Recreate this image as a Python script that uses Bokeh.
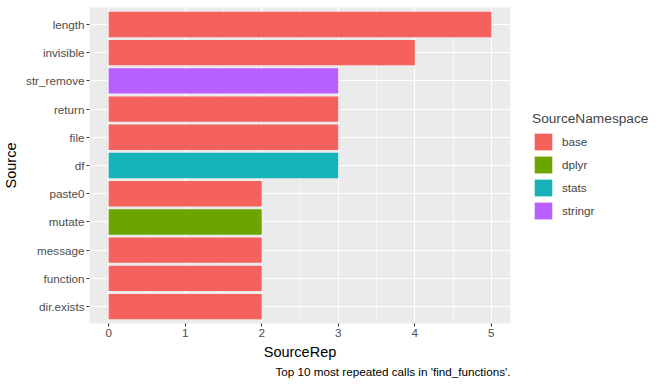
from bokeh.plotting import figure
from bokeh.models import Range1d, FixedTicker, Legend, LegendItem, ColumnDataSource, Title
from bokeh.embed import file_html
from bokeh.resources import INLINE

# Data (bottom to top)
sources = ["dir.exists", "function", "message", "mutate", "paste0",
           "df", "file", "return", "str_remove", "invisible", "length"]
reps = [2, 2, 2, 2, 2, 3, 3, 3, 3, 4, 5]
namespaces = ["base", "base", "base", "dplyr", "base",
              "stats", "base", "base", "stringr", "base", "base"]
ns_levels = ["base", "dplyr", "stats", "stringr"]
ns_colors = ["#F5625D", "#6CA500", "#16B4B8", "#B85FFF"]
x_ticks = [0, 1, 2, 3, 4, 5]
x_minor = [0.5, 1.5, 2.5, 3.5, 4.5]
caption = "Top 10 most repeated calls in 'find_functions'."

FONT = "Liberation Sans"

p = figure(frame_width=421, frame_height=316,
           x_range=Range1d(-0.25, 5.25), y_range=Range1d(0.4, 11.6),
           output_backend="svg", toolbar_location=None,
           min_border_left=82, min_border_right=153,
           min_border_top=7, min_border_bottom=58)

p.background_fill_color = "#EBEBEB"
p.border_fill_color = "white"
p.outline_line_color = None

ypos = list(range(1, len(sources) + 1))
items = []
for ns, col in zip(ns_levels, ns_colors):
    idx = [i for i, n in enumerate(namespaces) if n == ns]
    src = ColumnDataSource(dict(y=[ypos[i] for i in idx],
                                right=[reps[i] for i in idx]))
    r = p.hbar(y="y", left=0, right="right", height=0.9, source=src,
               fill_color=col, line_color=None)
    items.append(LegendItem(label=ns, renderers=[r]))

# grids
p.xgrid.ticker = FixedTicker(ticks=x_ticks, minor_ticks=x_minor)
p.xgrid.grid_line_color = "white"
p.xgrid.grid_line_width = 1.1
p.xgrid.minor_grid_line_color = "white"
p.xgrid.minor_grid_line_width = 0.55
p.ygrid.ticker = FixedTicker(ticks=ypos)
p.ygrid.grid_line_color = "white"
p.ygrid.grid_line_width = 1.1

# axes
p.xaxis.ticker = FixedTicker(ticks=x_ticks)
p.yaxis.ticker = FixedTicker(ticks=ypos)
p.yaxis.major_label_overrides = {y: s for y, s in zip(ypos, sources)}
for ax in (p.xaxis[0], p.yaxis[0]):
    ax.axis_line_color = None
    ax.major_tick_line_color = "#333333"
    ax.major_tick_line_width = 1.1
    ax.major_tick_out = 3
    ax.major_tick_in = 0
    ax.minor_tick_line_color = None
    ax.major_label_text_font = FONT
    ax.major_label_text_font_size = "11.7px"
    ax.major_label_text_color = "#4D4D4D"
    ax.major_label_standoff = 2
    ax.axis_label_text_font = FONT
    ax.axis_label_text_font_size = "14.5px"
    ax.axis_label_text_font_style = "normal"
    ax.axis_label_text_color = "black"
    ax.axis_label_standoff = 4

p.xaxis.axis_label = "SourceRep"
p.yaxis.axis_label = "Source"

cap = Title(text=caption, align="right", text_font=FONT,
            text_font_size="11.7px", text_font_style="normal",
            text_color="black", standoff=0)
p.add_layout(cap, "below")

legend = Legend(items=items, location=(22, 102),
                title="SourceNamespace", title_text_font=FONT,
                title_text_font_size="13.7px", title_text_font_style="normal",
                title_standoff=5,
                label_text_font=FONT, label_text_font_size="11.7px",
                glyph_width=22, glyph_height=21, spacing=2,
                label_standoff=8, padding=0, margin=0,
                border_line_color=None, background_fill_alpha=0)
p.add_layout(legend, "right")

open("out.html", "w").write(file_html(p, INLINE))
